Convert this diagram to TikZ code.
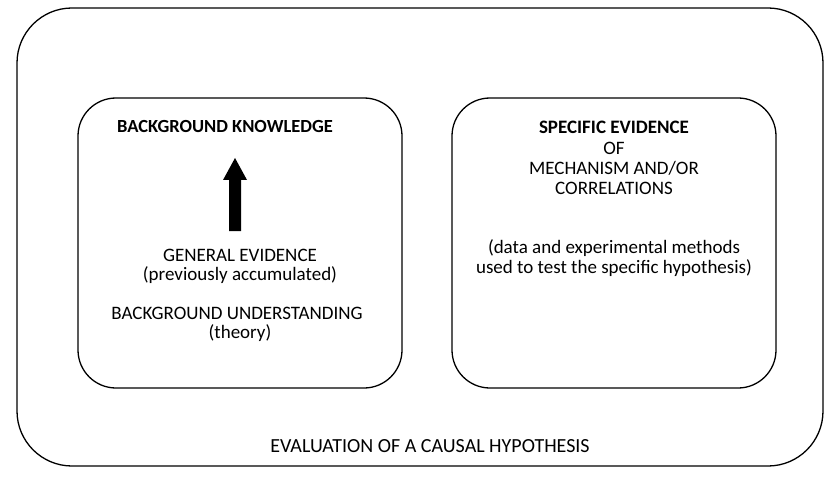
\documentclass[tikz,border=0pt]{standalone}
\usepackage{fontspec}
\setmainfont{Carlito}
\begin{document}
\begin{tikzpicture}[x=1pt,y=-1pt,
  box/.style={draw,line width=1.3pt,rounded corners=38pt},
  txt/.style={font=\fontsize{19}{21}\selectfont,inner sep=0pt,anchor=center}]
\useasboundingbox (0,0) rectangle (840,481);
\draw[box,rounded corners=55pt] (17,8) rectangle (823,466);
\draw[box] (78,98) rectangle (402,388);
\draw[box] (452,98) rectangle (776,388);
\node[txt,font=\fontsize{18.5}{21}\selectfont\bfseries] (bk) at (225,127) {BACKGROUND KNOWLEDGE};
\fill (229,231) -- (241,231) -- (241,180) -- (247,180) -- (235,158) -- (223,180) -- (229,180) -- cycle;
\node[txt] (ge) at (240,255) {GENERAL EVIDENCE};
\node[txt] (pa) at (240,275) {(previously accumulated)};
\node[txt] (bu) at (237,313) {BACKGROUND UNDERSTANDING};
\node[txt] (th) at (240,333) {(theory)};
\node[txt,font=\fontsize{19}{21}\selectfont\bfseries] (se) at (614,127) {SPECIFIC EVIDENCE};
\node[txt] (of) at (614,148) {OF};
\node[txt] (me) at (614,168) {MECHANISM AND/OR};
\node[txt] (co) at (614,188) {CORRELATIONS};
\node[txt] (d1) at (614,248) {(data and experimental methods};
\node[txt] (d2) at (614,268) {used to test the specific hypothesis)};
\node[txt,font=\fontsize{20}{22}\selectfont] (ev) at (430,446) {EVALUATION OF A CAUSAL HYPOTHESIS};
\end{tikzpicture}
\end{document}
